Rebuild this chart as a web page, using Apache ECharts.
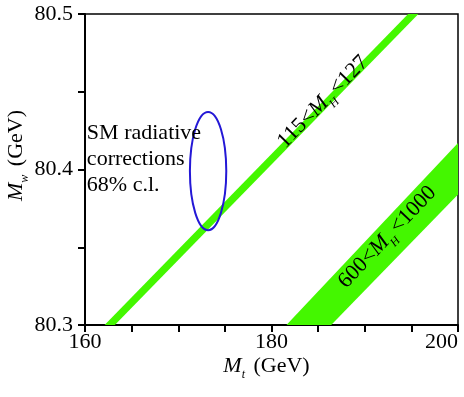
<!DOCTYPE html>
<html>
<head>
<meta charset="utf-8">
<script src="https://cdn.jsdelivr.net/npm/echarts@6/dist/echarts.min.js"></script>
<style>
  html, body { margin: 0; padding: 0; background: #fff; }
  #chart { width: 464px; height: 397px; }
</style>
</head>
<body>
<div id="chart"></div>
<script>
// axis ranges (GeV)
const xRange = [160, 200];
const yRange = [80.3, 80.5];

// bands in the (Mt, MW) plane, polygon corners
const lightHiggsBand = [[162.1, 80.3], [194.65, 80.5], [195.75, 80.5], [163.2, 80.3]];
const heavyHiggsBand = [[181.6, 80.3], [200, 80.417], [200, 80.384], [186.4, 80.3]];

// 68% c.l. contour: centre and half-widths
const ellipseCentre = [173.2, 80.399];
const ellipseRadii = [1.95, 0.038];

// labels: [Mt, MW, rotation in degrees]
const lightLabel = [185.6, 80.443, 45.7];
const heavyLabel = [192.5, 80.356, 46.6];
const smLabel = [160.2, 80.432];

const serif = '"Liberation Serif", "Times New Roman", serif';
const green = '#44f700';

const chart = echarts.init(document.getElementById('chart'));

function bandItem(points) {
  return function (params, api) {
    return {
      type: 'polygon',
      shape: { points: points.map((p) => api.coord(p)) },
      style: { fill: green, stroke: null },
    };
  };
}

function ellipseItem(params, api) {
  const c = api.coord(ellipseCentre);
  const s = api.size(ellipseRadii);
  return {
    type: 'ellipse',
    shape: { cx: c[0], cy: c[1], rx: s[0], ry: s[1] },
    style: { fill: null, stroke: '#2418d6', lineWidth: 2 },
  };
}

// main text sits at the top of the line, the subscript is pushed down by padding
const richText = {
  i: { fontFamily: serif, fontSize: 22, fontStyle: 'italic', lineHeight: 24, verticalAlign: 'top' },
  s: { fontFamily: serif, fontSize: 12, fontStyle: 'italic', lineHeight: 12, verticalAlign: 'top', padding: [14, 3, 0, 0] },
  n: { fontFamily: serif, fontSize: 22, lineHeight: 24, verticalAlign: 'top' },
};

function labelItem(spec, text) {
  return function (params, api) {
    const p = api.coord([spec[0], spec[1]]);
    return {
      type: 'text',
      x: p[0],
      y: p[1],
      rotation: (spec[2] * Math.PI) / 180,
      style: {
        text: text,
        align: 'center',
        verticalAlign: 'middle',
        fontFamily: serif,
        fontSize: 22,
        fill: '#000',
        rich: richText,
      },
    };
  };
}

function smItem(params, api) {
  const p = api.coord(smLabel);
  return {
    type: 'text',
    x: p[0],
    y: p[1],
    style: {
      text: 'SM radiative\ncorrections\n68% c.l.',
      align: 'left',
      verticalAlign: 'top',
      fontFamily: serif,
      fontSize: 22,
      lineHeight: 26,
      fill: '#000',
    },
  };
}

function onStep(v, step) {
  return Math.abs(v / step - Math.round(v / step)) < 1e-6;
}

const option = {
  animation: false,
  backgroundColor: '#fff',
  grid: {
    left: 85, right: 6, top: 14, bottom: 72,
    outerBoundsMode: 'none',
    show: true, borderColor: '#000', borderWidth: 1.5, backgroundColor: 'transparent',
  },
  xAxis: {
    type: 'value',
    min: xRange[0], max: xRange[1], interval: 5,
    name: '{i|M}{s|t}{n| (GeV)}',
    nameLocation: 'middle',
    nameGap: 30,
    nameMoveOverlap: false,
    nameTextStyle: { rich: richText, padding: [0, 10, 0, 0] },
    axisLine: { onZero: false, lineStyle: { color: '#000', width: 2 } },
    axisTick: { inside: false, length: 7, lineStyle: { color: '#000', width: 2 } },
    splitLine: { show: false },
    axisLabel: {
      margin: 6,
      color: '#000', fontFamily: serif, fontSize: 22,
      alignMaxLabel: 'right',
      formatter: (v) => (onStep(v, 20) ? String(v) : ''),
    },
  },
  yAxis: {
    type: 'value',
    min: yRange[0], max: yRange[1], interval: 0.05,
    name: '{i|M}{s|w}{n| (GeV)}',
    nameLocation: 'middle',
    nameGap: 56,
    nameMoveOverlap: false,
    nameTextStyle: { rich: richText, padding: [0, 0, 0, 28] },
    axisLine: { onZero: false, lineStyle: { color: '#000', width: 2 } },
    axisTick: { inside: false, length: 7, lineStyle: { color: '#000', width: 2 } },
    splitLine: { show: false },
    axisLabel: {
      margin: 12,
      color: '#000', fontFamily: serif, fontSize: 22,
      formatter: (v) => (onStep(v, 0.1) ? v.toFixed(1) : ''),
    },
  },
  series: [
    { type: 'custom', data: [0], renderItem: bandItem(lightHiggsBand), clip: true, silent: true, z: 1 },
    { type: 'custom', data: [0], renderItem: bandItem(heavyHiggsBand), clip: true, silent: true, z: 1 },
    { type: 'custom', data: [0], renderItem: ellipseItem, silent: true, z: 2 },
    { type: 'custom', data: [0], renderItem: labelItem(lightLabel, '{n|115<}{i|M}{s|H}{n|<127}'), silent: true, z: 3 },
    { type: 'custom', data: [0], renderItem: labelItem(heavyLabel, '{n|600<}{i|M}{s|H}{n|<1000}'), silent: true, z: 3 },
    { type: 'custom', data: [0], renderItem: smItem, silent: true, z: 3 },
  ],
};

chart.setOption(option);
</script>
</body>
</html>
